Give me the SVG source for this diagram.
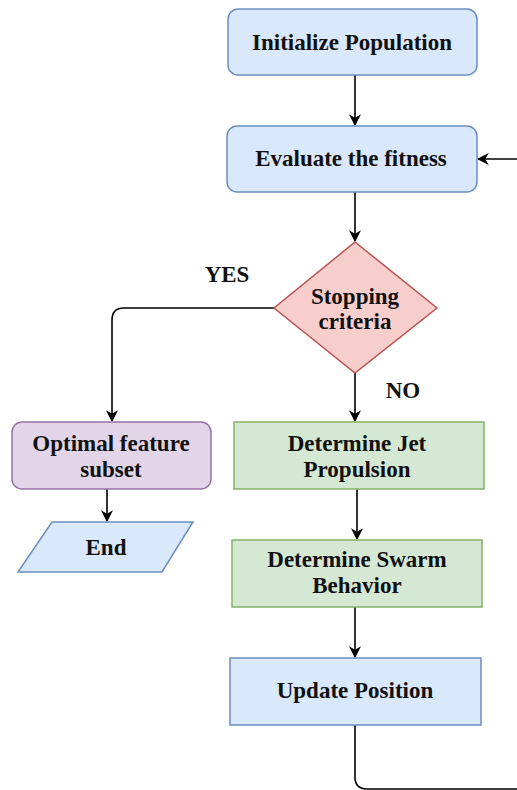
<svg xmlns="http://www.w3.org/2000/svg" width="517" height="790" viewBox="0 0 517 790">
<defs>
<marker id="ah" viewBox="0 0 10 10" refX="9" refY="5" markerWidth="12" markerHeight="12" markerUnits="userSpaceOnUse" orient="auto">
<path d="M0,0 L10,5 L0,10 L3,5 Z" fill="#000"/>
</marker>
<style>
.t{font-family:"Liberation Serif","Times New Roman",serif;font-weight:bold;font-size:23px;fill:#111;text-anchor:middle;}
.blue{fill:#dae8fc;stroke:#6c8ebf;stroke-width:1.5;}
.red{fill:#f8cecc;stroke:#b85450;stroke-width:1.5;}
.purple{fill:#e1d5e7;stroke:#9673a6;stroke-width:1.5;}
.green{fill:#d5e8d4;stroke:#82b366;stroke-width:1.5;}
.c{fill:none;stroke:#000;stroke-width:1.6;}
</style>
</defs>
<rect width="517" height="790" fill="#fff"/>
<g id="connectors">
<path class="c" d="M355,75 L355,125" marker-end="url(#ah)"/>
<path class="c" d="M517,159 L478,159" marker-end="url(#ah)"/>
<path class="c" d="M355,192 L355,241" marker-end="url(#ah)"/>
<path class="c" d="M274,308 L124,308 Q112,308 112,320 L112,421" marker-end="url(#ah)"/>
<path class="c" d="M355,373 L355,421" marker-end="url(#ah)"/>
<path class="c" d="M107,489 L107,521" marker-end="url(#ah)"/>
<path class="c" d="M357,489 L357,539" marker-end="url(#ah)"/>
<path class="c" d="M355,607 L355,657" marker-end="url(#ah)"/>
<path class="c" d="M355,725 L355,777 Q355,789 367,789 L517,789"/>
<text class="t" x="227" y="282">YES</text>
<text class="t" x="403" y="398">NO</text>
</g>
<g id="init">
<rect class="blue" x="228" y="9" width="249" height="66" rx="10"/>
<text class="t" x="352" y="50">Initialize Population</text>
</g>
<g id="evaluate">
<rect class="blue" x="227" y="126" width="250" height="66" rx="10"/>
<text class="t" x="351" y="166">Evaluate the fitness</text>
</g>
<g id="stopping">
<path class="red" d="M355,242 L437,308 L355,373 L274,308 Z"/>
<text class="t" x="355" y="304">Stopping</text>
<text class="t" x="355" y="329">criteria</text>
</g>
<g id="optimal">
<rect class="purple" x="12" y="422" width="199" height="67" rx="10"/>
<text class="t" x="111" y="451">Optimal feature</text>
<text class="t" x="111" y="477">subset</text>
</g>
<g id="end">
<path class="blue" d="M52,522 L193,522 L162,572 L18,572 Z"/>
<text class="t" x="106" y="555">End</text>
</g>
<g id="jet">
<rect class="green" x="234" y="422" width="250" height="67"/>
<text class="t" x="357" y="451">Determine Jet</text>
<text class="t" x="357" y="477">Propulsion</text>
</g>
<g id="swarm">
<rect class="green" x="232" y="540" width="250" height="67"/>
<text class="t" x="357" y="567">Determine Swarm</text>
<text class="t" x="357" y="593">Behavior</text>
</g>
<g id="update">
<rect class="blue" x="230" y="658" width="251" height="67"/>
<text class="t" x="355" y="698">Update Position</text>
</g>
</svg>
